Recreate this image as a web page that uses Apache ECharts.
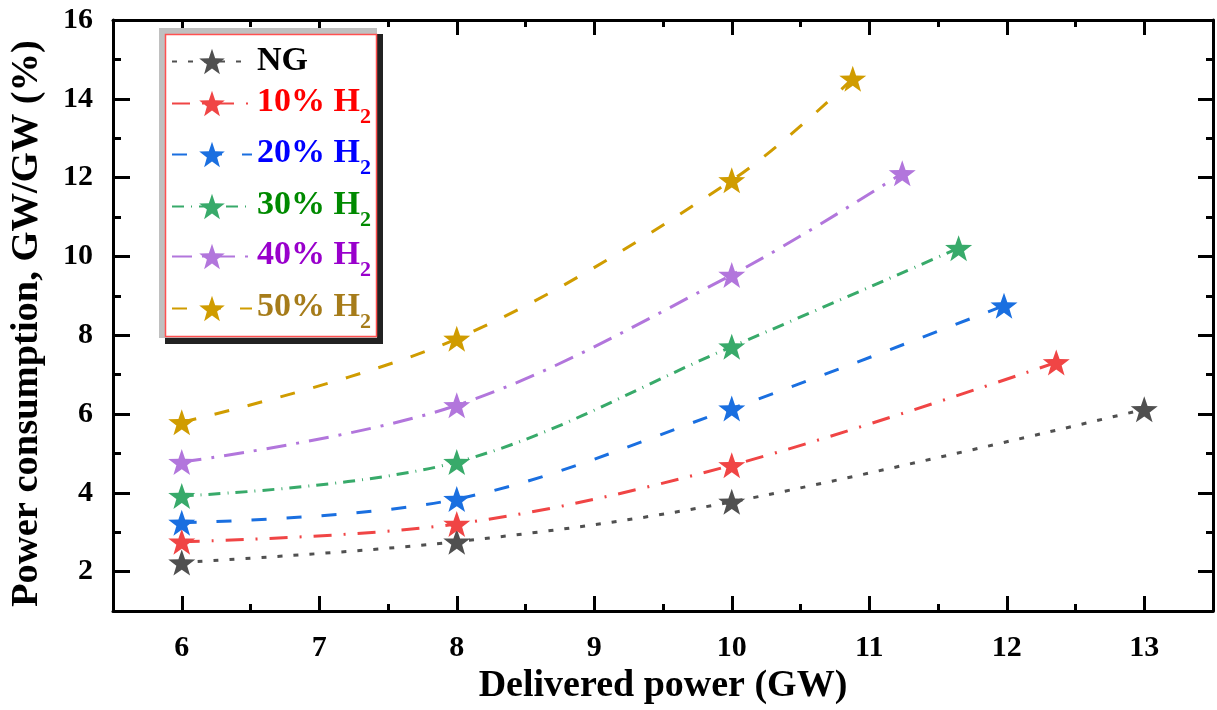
<!DOCTYPE html>
<html>
<head>
<meta charset="utf-8">
<script src="https://cdn.jsdelivr.net/npm/echarts@6/dist/echarts.min.js"></script>
<style>html,body{margin:0;padding:0;background:#fff}#c{width:1217px;height:710px}</style>
</head>
<body>
<div id="c"></div>
<script>
// ---- data ----
const seriesNames = ['NG', '10% H2', '20% H2', '30% H2', '40% H2', '50% H2'];
const xNG  = [6, 8, 10, 13];      const yNG  = [2.23, 2.76, 3.77, 6.12];
const x10  = [6, 8, 10, 12.36];   const y10  = [2.76, 3.21, 4.70, 7.31];
const x20  = [6, 8, 10, 11.98];   const y20  = [3.24, 3.84, 6.14, 8.75];
const x30  = [6, 8, 10, 11.65];   const y30  = [3.92, 4.78, 7.71, 10.21];
const x40  = [6, 8, 10, 11.24];   const y40  = [4.78, 6.22, 9.53, 12.11];
const x50  = [6, 8, 10, 10.88];   const y50  = [5.79, 7.91, 11.93, 14.51];
const xTickLabels = ['6', '7', '8', '9', '10', '11', '12', '13'];
const yTickValues = ['1','2','3','4','5','6','7','8','9','10','11','12','13','14','15','16'];

// ---- styles ----
const FONT = "'Liberation Serif','Times New Roman',serif";
const lineColors = ['#505050', '#f04545', '#1a6fe0', '#38aa6a', '#b276dc', '#d09c00'];
const textColors = ['#000000', '#ff0000', '#0000ff', '#008a00', '#9900cc', '#a67c1a'];
const dashes = [[5, 11], [18, 12, 2, 12], [15, 20], [12, 7, 1, 7], [20, 10, 3, 10], [15, 19]];
const xs = [xNG, x10, x20, x30, x40, x50];
const ys = [yNG, y10, y20, y30, y40, y50];

function starPath(R, r) {
  const pts = [];
  for (let i = 0; i < 10; i++) {
    const a = -Math.PI / 2 + i * Math.PI / 5;
    const rad = i % 2 ? r : R;
    pts.push((50 + rad * Math.cos(a)).toFixed(2) + ',' + (50 + rad * Math.sin(a)).toFixed(2));
  }
  return 'path://M' + pts.join('L') + 'Z';
}
const STAR = starPath(50, 20);

const series = seriesNames.map((name, i) => ({
  name: name,
  type: 'line',
  xAxisIndex: 0,
  yAxisIndex: 0,
  smooth: 0.35,
  symbol: STAR,
  symbolSize: [27, 26],
  z: 2,
  lineStyle: { color: lineColors[i], width: 3, type: dashes[i] },
  itemStyle: { color: lineColors[i] },
  data: xs[i].map((x, k) => [x, ys[i][k]])
}));

const starCenters = [61, 102, 153, 205, 255, 307];
const legends = seriesNames.map((name, i) => {
  const hasSub = i > 0;
  const rich = {};
  rich['m' + i] = { fontFamily: FONT, fontWeight: 'bold', fontSize: 34, color: textColors[i], padding: hasSub ? [6, 0, 0, 0] : 0, verticalAlign: 'top' };
  rich['s' + i] = { fontFamily: FONT, fontWeight: 'bold', fontSize: 22, color: textColors[i], padding: [27, 0, 0, 0], verticalAlign: 'top' };
  return {
    data: [name],
    orient: 'vertical',
    left: 171,
    top: starCenters[i] - (hasSub ? 17 : 16.5),
    padding: 0,
    itemWidth: 80,
    itemHeight: 32,
    selectedMode: false,
    textStyle: { color: textColors[i], fontFamily: FONT, fontWeight: 'bold', fontSize: 34, rich: rich },
    formatter: function (n) {
      if (n.indexOf('H2') >= 0) return '{m' + i + '|' + n.replace('H2', 'H') + '}{s' + i + '|2}';
      return '{m' + i + '|' + n + '}';
    }
  };
});

const axisLineStyle = { color: '#000', width: 3 };
const tickLabelStyle = { fontFamily: FONT, fontWeight: 'bold', fontSize: 30, color: '#000' };
const evenOnly = (idx) => idx % 2 === 1;

const option = {
  animation: false,
  backgroundColor: '#fff',
  grid: { left: 110, right: 4, top: 20, bottom: 98, containLabel: false },
  legend: legends,
  graphic: { elements: [
    { type: 'rect', z: 3, shape: { x: 165, y: 34, width: 218, height: 310 }, style: { fill: '#222' } },
    { type: 'rect', z: 3, shape: { x: 159, y: 28, width: 218, height: 310 }, style: { fill: '#c0c0c0' } },
    { type: 'rect', z: 3, shape: { x: 165.5, y: 34.5, width: 211, height: 302 }, style: { fill: '#fff', stroke: '#ff5050', lineWidth: 1.5 } }
  ] },
  xAxis: [
    { type: 'value', position: 'bottom', min: 5.5, max: 13.5, interval: 0.5,
      axisLine: { show: true, onZero: false, lineStyle: axisLineStyle },
      axisTick: { show: true, inside: true, length: 7, lineStyle: axisLineStyle },
      axisLabel: { show: false }, splitLine: { show: false },
      name: 'Delivered power (GW)', nameLocation: 'middle', nameGap: 56,
      nameTextStyle: { fontFamily: FONT, fontWeight: 'bold', fontSize: 38, color: '#000' } },
    { type: 'category', position: 'bottom', data: xTickLabels, boundaryGap: true, min: 0, max: xTickLabels.length - 1,
      axisLine: { show: false },
      axisTick: { show: true, inside: true, alignWithLabel: true, length: 15, lineStyle: axisLineStyle },
      axisLabel: Object.assign({ margin: 22, interval: 0 }, tickLabelStyle), splitLine: { show: false } },
    { type: 'value', position: 'top', min: 5.5, max: 13.5, interval: 0.5,
      axisLine: { show: true, onZero: false, lineStyle: axisLineStyle },
      axisTick: { show: true, inside: true, length: 7, lineStyle: axisLineStyle },
      axisLabel: { show: false }, splitLine: { show: false } },
    { type: 'category', position: 'top', data: xTickLabels, boundaryGap: true, min: 0, max: xTickLabels.length - 1,
      axisLine: { show: false },
      axisTick: { show: true, inside: true, alignWithLabel: true, length: 15, lineStyle: axisLineStyle },
      axisLabel: { show: false }, splitLine: { show: false } }
  ],
  yAxis: [
    { type: 'value', position: 'left', min: 1, max: 16, interval: 1,
      axisLine: { show: true, onZero: false, lineStyle: axisLineStyle },
      axisTick: { show: true, inside: true, length: 8, lineStyle: axisLineStyle },
      axisLabel: { show: false }, splitLine: { show: false },
      name: 'Power consumption, GW/GW (%)', nameLocation: 'middle', nameGap: 66,
      nameTextStyle: { fontFamily: FONT, fontWeight: 'bold', fontSize: 38.5, color: '#000', padding: [0, 16, 0, 0] } },
    { type: 'category', position: 'left', data: yTickValues, boundaryGap: false, min: 0, max: yTickValues.length - 1,
      axisLine: { show: false },
      axisTick: { show: true, inside: true, length: 17, interval: evenOnly, lineStyle: axisLineStyle },
      axisLabel: Object.assign({ margin: 20, interval: evenOnly }, tickLabelStyle), splitLine: { show: false } },
    { type: 'value', position: 'right', min: 1, max: 16, interval: 1,
      axisLine: { show: true, onZero: false, lineStyle: axisLineStyle },
      axisTick: { show: true, inside: true, length: 7, lineStyle: axisLineStyle },
      axisLabel: { show: false }, splitLine: { show: false } },
    { type: 'category', position: 'right', data: yTickValues, boundaryGap: false, min: 0, max: yTickValues.length - 1,
      axisLine: { show: false },
      axisTick: { show: true, inside: true, length: 15, interval: evenOnly, lineStyle: axisLineStyle },
      axisLabel: { show: false }, splitLine: { show: false } }
  ],
  series: series
};

const chart = echarts.init(document.getElementById('c'), null, { renderer: 'canvas' });
chart.setOption(option);
</script>
</body>
</html>
